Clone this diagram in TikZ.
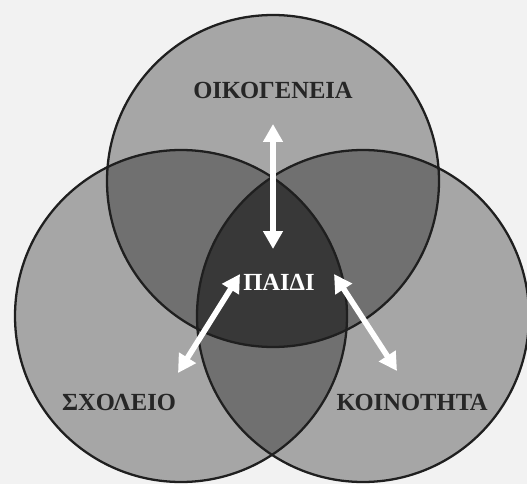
\documentclass[tikz,border=0pt]{standalone}
\usepackage{fontspec}
\setmainfont{Liberation Serif}
\usepackage{tikz}
\usetikzlibrary{arrows.meta}
\definecolor{paper}{gray}{0.95}
\definecolor{onegray}{gray}{0.65}
\definecolor{twogray}{gray}{0.44}
\definecolor{threegray}{gray}{0.22}
\definecolor{rimgray}{gray}{0.12}
\tikzset{
  ring/.style={draw=rimgray,line width=1.3pt},
  setlabel/.style={font=\fontsize{14}{16}\selectfont\bfseries,text=black!85},
  twoway/.style={{Triangle[length=3.6mm,width=3.8mm]}-{Triangle[length=3.6mm,width=3.8mm]},line width=3.2pt,draw=white}
}

\begin{document}
\begin{tikzpicture}[x=0.02cm,y=0.02cm]
  \fill[paper] (0,0) rectangle (527,484);
  \useasboundingbox (0,0) rectangle (527,484);

  \coordinate (fam) at (273,303);
  \coordinate (sch) at (181,168);
  \coordinate (com) at (363,168);
  \def\rad{166}

  \foreach \c in {fam,sch,com}{
    \fill[onegray] (\c) circle (\rad);
  }

  % pairwise overlaps
  \foreach \a/\b in {fam/sch,fam/com,sch/com}{
    \begin{scope}
      \clip (\a) circle (\rad);
      \fill[twogray] (\b) circle (\rad);
    \end{scope}
  }

  % all three
  \begin{scope}
    \clip (fam) circle (\rad);
    \clip (sch) circle (\rad);
    \fill[threegray] (com) circle (\rad);
  \end{scope}

  \foreach \c in {fam,sch,com}{
    \draw[ring] (\c) circle (\rad);
  }

  \node[setlabel] (famlabel) at (273,394) {ΟΙΚΟΓΕΝΕΙΑ};
  \node[setlabel,text=white] (childlabel) at (279,202) {ΠΑΙΔΙ};
  \node[setlabel] (schlabel) at (119,82) {ΣΧΟΛΕΙΟ};
  \node[setlabel] (comlabel) at (412,82) {ΚΟΙΝΟΤΗΤΑ};

  \coordinate (famout) at (273,360);
  \coordinate (famin)  at (273,235);
  \coordinate (schout) at (178,111);
  \coordinate (schin)  at (240,210);
  \coordinate (comout) at (397,113);
  \coordinate (comin)  at (334,210);

  \draw[twoway] (famout)--(famin);
  \draw[twoway] (schout)--(schin);
  \draw[twoway] (comin)--(comout);
\end{tikzpicture}
\end{document}
